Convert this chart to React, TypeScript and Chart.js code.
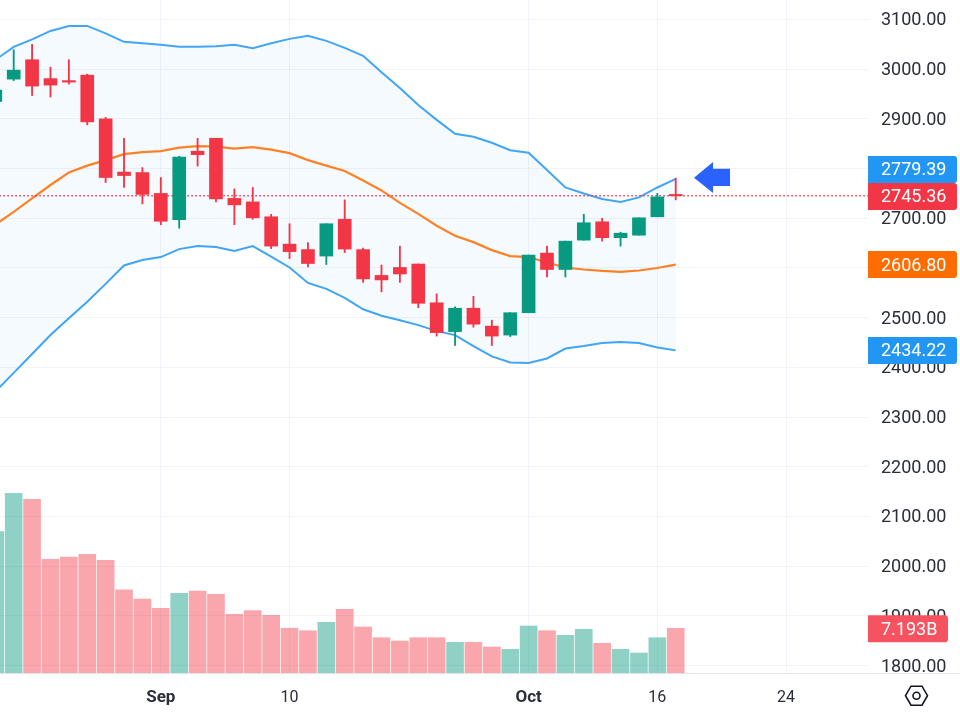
import React, { useEffect, useRef } from "react";
import { Chart, registerables } from "chart.js";

Chart.register(...registerables);

const opens = [2935, 2980, 3019, 2981, 2977, 2988, 2900, 2793, 2792, 2750, 2697, 2835, 2861, 2740, 2733, 2703, 2648, 2637, 2624, 2698, 2637, 2585, 2601, 2608, 2530, 2472, 2519, 2483, 2465, 2510, 2630, 2597, 2656, 2693, 2661, 2666, 2703, 2748];
const closes = [2958, 2998, 2966, 2968, 2974, 2894, 2782, 2786, 2748, 2694, 2823, 2828, 2739, 2727, 2701, 2644, 2633, 2609, 2689, 2638, 2578, 2576, 2588, 2529, 2470, 2519, 2487, 2463, 2510, 2626, 2597, 2654, 2691, 2661, 2670, 2701, 2743, 2745.36];
const highs = [2962, 3039, 3050, 3004, 3019, 2990, 2903, 2861, 2802, 2782, 2825, 2861, 2861, 2759, 2762, 2708, 2689, 2651, 2689, 2737, 2640, 2606, 2644, 2608, 2548, 2522, 2543, 2495, 2510, 2626, 2644, 2654, 2708, 2700, 2672, 2701, 2750, 2781];
const lows = [2932, 2977, 2947, 2944, 2970, 2888, 2772, 2762, 2729, 2687, 2680, 2805, 2733, 2687, 2698, 2639, 2619, 2602, 2607, 2631, 2571, 2552, 2571, 2520, 2463, 2444, 2481, 2444, 2462, 2510, 2582, 2582, 2656, 2654, 2644, 2666, 2703, 2737];
const volumes = [22.75, 28.93, 27.97, 18.31, 18.68, 19.11, 18.14, 13.41, 11.91, 10.42, 12.83, 13.2, 12.67, 9.45, 10.03, 9.29, 7.2, 6.81, 8.16, 10.26, 7.41, 5.68, 5.15, 5.68, 5.68, 4.94, 4.94, 4.19, 3.82, 7.57, 6.81, 6.07, 7.04, 4.78, 3.82, 3.22, 5.68, 7.193];
const upperBand = [3018.5, 3045, 3060, 3077, 3087, 3087, 3072, 3055, 3052, 3049, 3045, 3045, 3046, 3049, 3042, 3052, 3061, 3067, 3057, 3043, 3027, 2994, 2962, 2928, 2898, 2870, 2864, 2852, 2837, 2832, 2797, 2762, 2750, 2739, 2733, 2742, 2762, 2779.39];
const middleBand = [2687, 2713, 2740, 2767, 2792, 2806, 2817, 2829, 2833, 2835, 2842, 2845, 2844, 2840, 2843, 2838, 2831, 2817, 2806, 2795, 2776, 2756, 2731, 2709, 2685, 2665, 2652, 2636, 2624, 2622, 2611, 2601, 2597, 2594, 2592, 2595, 2600, 2606.8];
const lowerBand = [2351, 2389, 2427, 2465, 2499, 2532, 2568, 2605, 2616, 2622, 2638, 2644, 2642, 2634, 2644, 2623, 2601, 2570, 2558, 2540, 2517, 2504, 2495, 2485, 2473, 2465, 2443, 2422, 2410, 2409, 2418, 2438, 2443, 2449, 2451, 2449, 2440, 2434.22];
const currentPrice = 2745.36;
const lastVolumeLabel = "7.193B";
const priceTicks = [3100, 3000, 2900, 2800, 2700, 2600, 2500, 2400, 2300, 2200, 2100, 2000, 1900, 1800];
const timeTickIndex = [9, 16, 29, 36, 43];
const timeTickLabel = ["Sep", "10", "Oct", "16", "24"];
const boldTimeTicks = ["Sep", "Oct"];

const GREEN = "#089981";
const RED = "#f23645";
const BLUE = "#2196f3";
const ORANGE = "#ff6d00";
const GRID = "#f0f3fa";
const TEXT = "#2a2e39";
const FONT = "Roboto, sans-serif";
const last = opens.length - 1;

const pts = (arr: number[]) => arr.map((y, x) => ({ x, y }));
const isUp = (i: number) => closes[i] >= opens[i];

const overlay = {
  id: "overlay",
  afterDraw(chart: any) {
    const { ctx, scales } = chart;
    const yP = scales.y;
    const yV = scales.yVol;
    const xS = scales.x;
    const boxH = 27;
    const box = (y: number, color: string, text: string, w = 89) => {
      const left = chart.chartArea.right;
      ctx.fillStyle = color;
      ctx.beginPath();
      ctx.roundRect(left, y - boxH / 2, w, boxH, [0, 3, 3, 0]);
      ctx.fill();
      ctx.fillStyle = "#ffffff";
      ctx.font = `18px ${FONT}`;
      ctx.textAlign = "left";
      ctx.textBaseline = "middle";
      ctx.fillText(text, left + 13, y + 1.5);
    };
    const lastY = yP.getPixelForValue(currentPrice) + 0.7;
    box(yP.getPixelForValue(lowerBand[last]), BLUE, lowerBand[last].toFixed(2));
    box(yP.getPixelForValue(middleBand[last]), ORANGE, middleBand[last].toFixed(2));
    // the upper band label is pushed clear of the last price label
    box(Math.min(yP.getPixelForValue(upperBand[last]), lastY - boxH), BLUE, upperBand[last].toFixed(2));
    box(lastY, RED, currentPrice.toFixed(2));
    box(yV.getPixelForValue(volumes[last]) + 0.5, "#f7525f", lastVolumeLabel, 80);

    // time axis rule runs on under the price axis
    ctx.strokeStyle = "#e0e3eb";
    ctx.lineWidth = 1;
    ctx.beginPath();
    ctx.moveTo(chart.chartArea.right, chart.chartArea.bottom + 0.5);
    ctx.lineTo(chart.width, chart.chartArea.bottom + 0.5);
    ctx.stroke();

    // arrow marker, anchored to the last bar
    const ax = xS.getPixelForValue(last) + 18.3;
    const ay = yP.getPixelForValue(upperBand[last]) - 1.2;
    ctx.fillStyle = "#2962ff";
    ctx.beginPath();
    ctx.moveTo(ax, ay);
    ctx.lineTo(ax + 19, ay - 15.7);
    ctx.lineTo(ax + 19, ay - 9);
    ctx.lineTo(ax + 36, ay - 9);
    ctx.lineTo(ax + 36, ay + 8.3);
    ctx.lineTo(ax + 19, ay + 8.3);
    ctx.lineTo(ax + 19, ay + 15.3);
    ctx.closePath();
    ctx.fill();

    // logo hexagon in the corner
    const cx = 916.5;
    const cy = 695.7;
    ctx.strokeStyle = "#131722";
    ctx.lineWidth = 1.6;
    ctx.beginPath();
    ctx.moveTo(cx - 11, cy);
    ctx.lineTo(cx - 5.5, cy - 9.5);
    ctx.lineTo(cx + 5.5, cy - 9.5);
    ctx.lineTo(cx + 11, cy);
    ctx.lineTo(cx + 5.5, cy + 9.5);
    ctx.lineTo(cx - 5.5, cy + 9.5);
    ctx.closePath();
    ctx.stroke();
    ctx.beginPath();
    ctx.arc(cx, cy, 3.5, 0, Math.PI * 2);
    ctx.stroke();
  },
};

export default function App() {
  const ref = useRef<HTMLCanvasElement>(null);

  useEffect(() => {
    const lineBase = { type: "line", yAxisID: "y", pointRadius: 0, tension: 0 };
    const chart = new Chart(ref.current as HTMLCanvasElement, {
      type: "bar",
      data: {
        datasets: [
          {
            ...lineBase,
            label: "Upper",
            data: pts(upperBand),
            borderColor: "#42a5f5",
            borderWidth: 2,
            fill: { target: 1 },
            backgroundColor: "rgba(33,150,243,0.05)",
            order: 5,
          },
          {
            ...lineBase,
            label: "Lower",
            data: pts(lowerBand),
            borderColor: "#42a5f5",
            borderWidth: 2,
            order: 5,
          },
          {
            ...lineBase,
            label: "Basis",
            data: pts(middleBand),
            borderColor: "#ff8126",
            borderWidth: 2.2,
            order: 4,
          },
          {
            type: "bar",
            label: "Volume",
            yAxisID: "yVol",
            data: volumes.map((y, x) => ({ x, y })),
            backgroundColor: volumes.map((_, i) => (isUp(i) ? "rgba(8,153,129,0.45)" : "rgba(242,54,69,0.44)")),
            barThickness: 17,
            grouped: false,
            order: 6,
          },
          {
            type: "bar",
            label: "Wick",
            yAxisID: "y",
            data: highs.map((h, x) => ({ x, y: [lows[x], h] })),
            backgroundColor: opens.map((_, i) => (isUp(i) ? GREEN : RED)),
            barThickness: 1.2,
            grouped: false,
            order: 2,
          },
          {
            type: "bar",
            label: "Body",
            yAxisID: "y",
            data: opens.map((o, x) => ({ x, y: [o, closes[x]] })),
            backgroundColor: opens.map((_, i) => (isUp(i) ? GREEN : RED)),
            barThickness: 13,
            grouped: false,
            order: 1,
          },
          {
            ...lineBase,
            label: "Last",
            data: [
              { x: 0, y: currentPrice },
              { x: 48, y: currentPrice },
            ],
            borderColor: RED,
            borderWidth: 1.5,
            borderDash: [1.5, 2.5],
            order: 3,
          },
        ],
      } as any,
      plugins: [overlay],
      options: {
        responsive: false,
        animation: false,
        layout: { padding: 0 },
        plugins: { legend: { display: false }, tooltip: { enabled: false } },
        scales: {
          x: {
            type: "linear",
            min: 0.255,
            max: 47.455,
            offset: false,
            afterBuildTicks: (s: any) => {
              s.ticks = timeTickIndex.map((value) => ({ value }));
            },
            afterFit: (s: any) => {
              s.height = 55;
              s.paddingLeft = 0;
              s.paddingRight = 0;
            },
            grid: { color: GRID, lineWidth: 1, drawTicks: false, offset: false },
            border: { display: true, color: "#e0e3eb", width: 1 },
            ticks: {
              autoSkip: false,
              maxRotation: 0,
              padding: 15,
              color: TEXT,
              font: (c: any) => {
                const lbl = timeTickLabel[timeTickIndex.indexOf(c.tick?.value)];
                return { family: FONT, size: boldTimeTicks.includes(lbl) ? 17 : 16, weight: boldTimeTicks.includes(lbl) ? "bold" : "normal" };
              },
              callback: (v: any) => timeTickLabel[timeTickIndex.indexOf(v)],
            },
          },
          y: {
            type: "linear",
            position: "right",
            min: 1785.1,
            max: 3139.2,
            afterBuildTicks: (s: any) => {
              s.ticks = priceTicks.map((value) => ({ value }));
            },
            afterFit: (s: any) => {
              s.width = 92;
              s.paddingTop = 0;
              s.paddingBottom = 0;
            },
            grid: { color: GRID, lineWidth: 1, drawTicks: false },
            border: { display: false },
            ticks: {
              autoSkip: false,
              padding: 13,
              labelOffset: 1.5,
              color: TEXT,
              font: { family: FONT, size: 18 },
              callback: (v: any) => Number(v).toFixed(2),
            },
          },
          yVol: {
            type: "linear",
            display: false,
            min: 0,
            max: 108.35,
          },
        },
      } as any,
    });
    return () => chart.destroy();
  }, []);

  return (
    <div style={{ position: "absolute", left: 0, top: 0, width: 960, height: 728, background: "#fff" }}>
      <canvas ref={ref} width={960} height={728} style={{ display: "block", filter: "blur(0.35px)" }} />
    </div>
  );
}
